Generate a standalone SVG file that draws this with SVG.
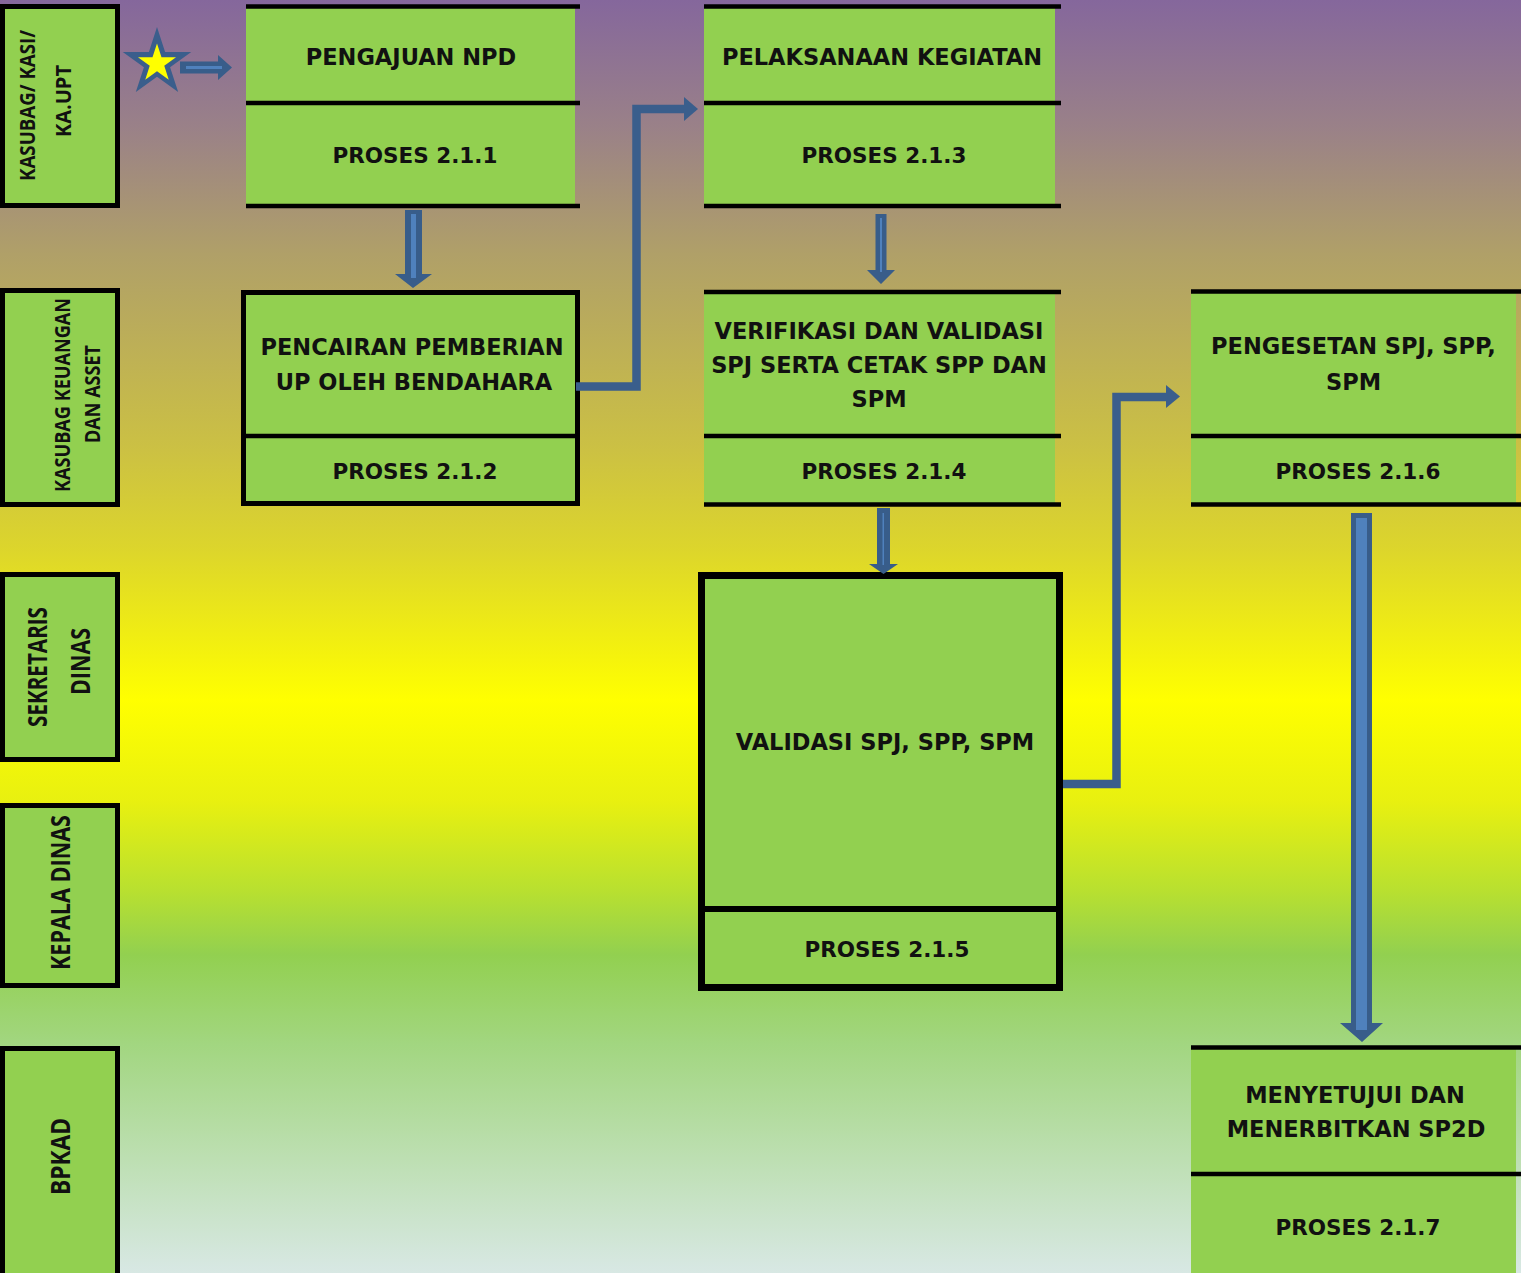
<svg xmlns="http://www.w3.org/2000/svg" width="1521" height="1273" viewBox="0 0 1521 1273">
<defs>
<linearGradient id="bg" x1="0" y1="0" x2="0" y2="1273" gradientUnits="userSpaceOnUse">
<stop offset="0" stop-color="#85679c"/>
<stop offset="0.1" stop-color="#9a8188"/>
<stop offset="0.2" stop-color="#b0a068"/>
<stop offset="0.35" stop-color="#cbc044"/>
<stop offset="0.43" stop-color="#dcd52c"/>
<stop offset="0.55" stop-color="#ffff00"/>
<stop offset="0.63" stop-color="#e8f010"/>
<stop offset="0.7" stop-color="#b8e030"/>
<stop offset="0.75" stop-color="#92d050"/>
<stop offset="0.82" stop-color="#a2d680"/>
<stop offset="1" stop-color="#d8e8e4"/>
</linearGradient>
<polygon id="star" points="0,-1 0.2245,-0.309 0.9511,-0.309 0.3633,0.118 0.5878,0.809 0,0.382 -0.5878,0.809 -0.3633,0.118 -0.9511,-0.309 -0.2245,-0.309"/>
</defs>
<style>
.lane{fill:#92d050;stroke:#000;stroke-width:5}
.box{fill:#92d050}
.ln{stroke:#000;stroke-width:4.5}
.lt{font-family:"Open Sans","DejaVu Sans",sans-serif;font-weight:bold;fill:#111;text-anchor:middle}
.bt{font-family:"DejaVu Sans","Verdana",sans-serif;font-weight:bold;font-size:22.5px;fill:#111;text-anchor:middle}
.pt{font-family:"DejaVu Sans","Verdana",sans-serif;font-weight:bold;font-size:21.5px;fill:#111;text-anchor:middle}
.ad{fill:#385d8a}
.al{fill:#4f81bd}
.con{fill:none;stroke:#3a5e8c;stroke-width:8.5;stroke-linejoin:miter}
</style>
<rect x="0" y="0" width="1521" height="1273" fill="url(#bg)"/>

<g id="lane1">
<rect class="lane" x="2.5" y="6.5" width="115" height="199"/>
<text class="lt" font-size="22" transform="translate(35,105.5) rotate(-90)" textLength="151" lengthAdjust="spacingAndGlyphs">KASUBAG/ KASI/</text>
<text class="lt" font-size="22" transform="translate(71,101) rotate(-90)" textLength="72" lengthAdjust="spacingAndGlyphs">KA.UPT</text>
</g>
<g id="lane2">
<rect class="lane" x="2.5" y="290.5" width="115" height="214"/>
<text class="lt" font-size="21" transform="translate(70,395) rotate(-90)" textLength="194" lengthAdjust="spacingAndGlyphs">KASUBAG KEUANGAN</text>
<text class="lt" font-size="21" transform="translate(100,394) rotate(-90)" textLength="98" lengthAdjust="spacingAndGlyphs">DAN ASSET</text>
</g>
<g id="lane3">
<rect class="lane" x="2.5" y="574.5" width="115" height="185"/>
<text class="lt" font-size="26" transform="translate(47,667) rotate(-90)" textLength="120" lengthAdjust="spacingAndGlyphs">SEKRETARIS</text>
<text class="lt" font-size="26" transform="translate(90,661.5) rotate(-90)" textLength="67" lengthAdjust="spacingAndGlyphs">DINAS</text>
</g>
<g id="lane4">
<rect class="lane" x="2.5" y="805.5" width="115" height="180"/>
<text class="lt" font-size="26" transform="translate(70,892.5) rotate(-90)" textLength="155" lengthAdjust="spacingAndGlyphs">KEPALA DINAS</text>
</g>
<g id="lane5">
<rect class="lane" x="2.5" y="1048.5" width="115" height="240"/>
<text class="lt" font-size="26" transform="translate(70,1156.5) rotate(-90)" textLength="77" lengthAdjust="spacingAndGlyphs">BPKAD</text>
</g>

<g id="start">
<use href="#star" transform="translate(157,63) scale(36)" fill="#3a5e8c"/>
<use href="#star" transform="translate(157,63.5) scale(20)" fill="#ffff00"/>
</g>

<g id="p211">
<rect class="box" x="246" y="7" width="329" height="199"/>
<line class="ln" x1="246" y1="6.5" x2="580" y2="6.5"/>
<line class="ln" x1="246" y1="103" x2="580" y2="103"/>
<line class="ln" x1="246" y1="206" x2="580" y2="206"/>
<text class="bt" x="411" y="65">PENGAJUAN NPD</text>
<text class="pt" x="415" y="163">PROSES 2.1.1</text>
</g>

<g id="p212">
<rect class="box" x="243.5" y="292.5" width="334" height="211" stroke="#000" stroke-width="5"/>
<line class="ln" x1="243" y1="436" x2="578" y2="436"/>
<text class="bt" x="412" y="355">PENCAIRAN PEMBERIAN</text>
<text class="bt" x="414" y="390">UP OLEH BENDAHARA</text>
<text class="pt" x="415" y="479">PROSES 2.1.2</text>
</g>

<g id="p213">
<rect class="box" x="704" y="7" width="351" height="199"/>
<line class="ln" x1="704" y1="6.5" x2="1061" y2="6.5"/>
<line class="ln" x1="704" y1="103" x2="1061" y2="103"/>
<line class="ln" x1="704" y1="206" x2="1061" y2="206"/>
<text class="bt" x="882" y="65">PELAKSANAAN KEGIATAN</text>
<text class="pt" x="884" y="163">PROSES 2.1.3</text>
</g>

<g id="p214">
<rect class="box" x="704" y="292" width="351" height="212"/>
<line class="ln" x1="704" y1="292" x2="1061" y2="292"/>
<line class="ln" x1="704" y1="436" x2="1061" y2="436"/>
<line class="ln" x1="704" y1="504.5" x2="1061" y2="504.5"/>
<text class="bt" x="879" y="339">VERIFIKASI DAN VALIDASI</text>
<text class="bt" x="879" y="373">SPJ SERTA CETAK SPP DAN</text>
<text class="bt" x="879" y="407">SPM</text>
<text class="pt" x="884" y="479">PROSES 2.1.4</text>
</g>

<g id="p215">
<rect class="box" x="701.5" y="575.5" width="358" height="412" stroke="#000" stroke-width="7"/>
<line x1="701" y1="909" x2="1060" y2="909" stroke="#000" stroke-width="6"/>
<text class="bt" x="885" y="750">VALIDASI SPJ, SPP, SPM</text>
<text class="pt" x="887" y="957">PROSES 2.1.5</text>
</g>

<g id="p216">
<rect class="box" x="1191" y="292" width="325" height="212"/>
<line class="ln" x1="1191" y1="291.5" x2="1521" y2="291.5"/>
<line class="ln" x1="1191" y1="436" x2="1521" y2="436"/>
<line class="ln" x1="1191" y1="504.5" x2="1521" y2="504.5"/>
<text class="bt" x="1353.5" y="354">PENGESETAN SPJ, SPP,</text>
<text class="bt" x="1353.5" y="390">SPM</text>
<text class="pt" x="1358" y="479">PROSES 2.1.6</text>
</g>

<g id="p217">
<rect class="box" x="1191" y="1048" width="325" height="225"/>
<line class="ln" x1="1191" y1="1047.5" x2="1521" y2="1047.5"/>
<line class="ln" x1="1191" y1="1174" x2="1521" y2="1174"/>
<text class="bt" x="1355" y="1103">MENYETUJUI DAN</text>
<text class="bt" x="1356" y="1137">MENERBITKAN SP2D</text>
<text class="pt" x="1358" y="1235">PROSES 2.1.7</text>
</g>

<g id="connectors">
<polygon class="ad" points="180,61.5 218,61.5 218,55 232,67.5 218,80 218,73.5 180,73.5"/>
<rect class="al" x="186" y="66" width="36" height="3"/>
<polygon class="ad" points="405,210 422,210 422,274 432,274 413,288 395,274 405,274"/>
<rect class="al" x="411" y="214" width="5" height="64"/>
<polyline class="con" points="576,386.5 636.5,386.5 636.5,109 686,109"/>
<polygon fill="#3a5e8c" points="684,97 698,109 684,121"/>
<polygon class="ad" points="875.5,214 886.5,214 886.5,270 895,270 881,284 867,270 875.5,270"/>
<rect class="al" x="880" y="218" width="2" height="54"/>
<polygon class="ad" points="877,508 890,508 890,564 898,564 883.5,574 869,564 877,564"/>
<rect class="al" x="882.5" y="513" width="1.5" height="52"/>
<polyline class="con" points="1063,784 1116.5,784 1116.5,397 1168,397"/>
<polygon fill="#3a5e8c" points="1166,385 1180,396.5 1166,408"/>
<polygon class="ad" points="1351,513 1372,513 1372,1023 1383,1023 1362,1042 1340,1023 1351,1023"/>
<rect class="al" x="1356" y="518" width="11" height="512"/>
</g>
</svg>
